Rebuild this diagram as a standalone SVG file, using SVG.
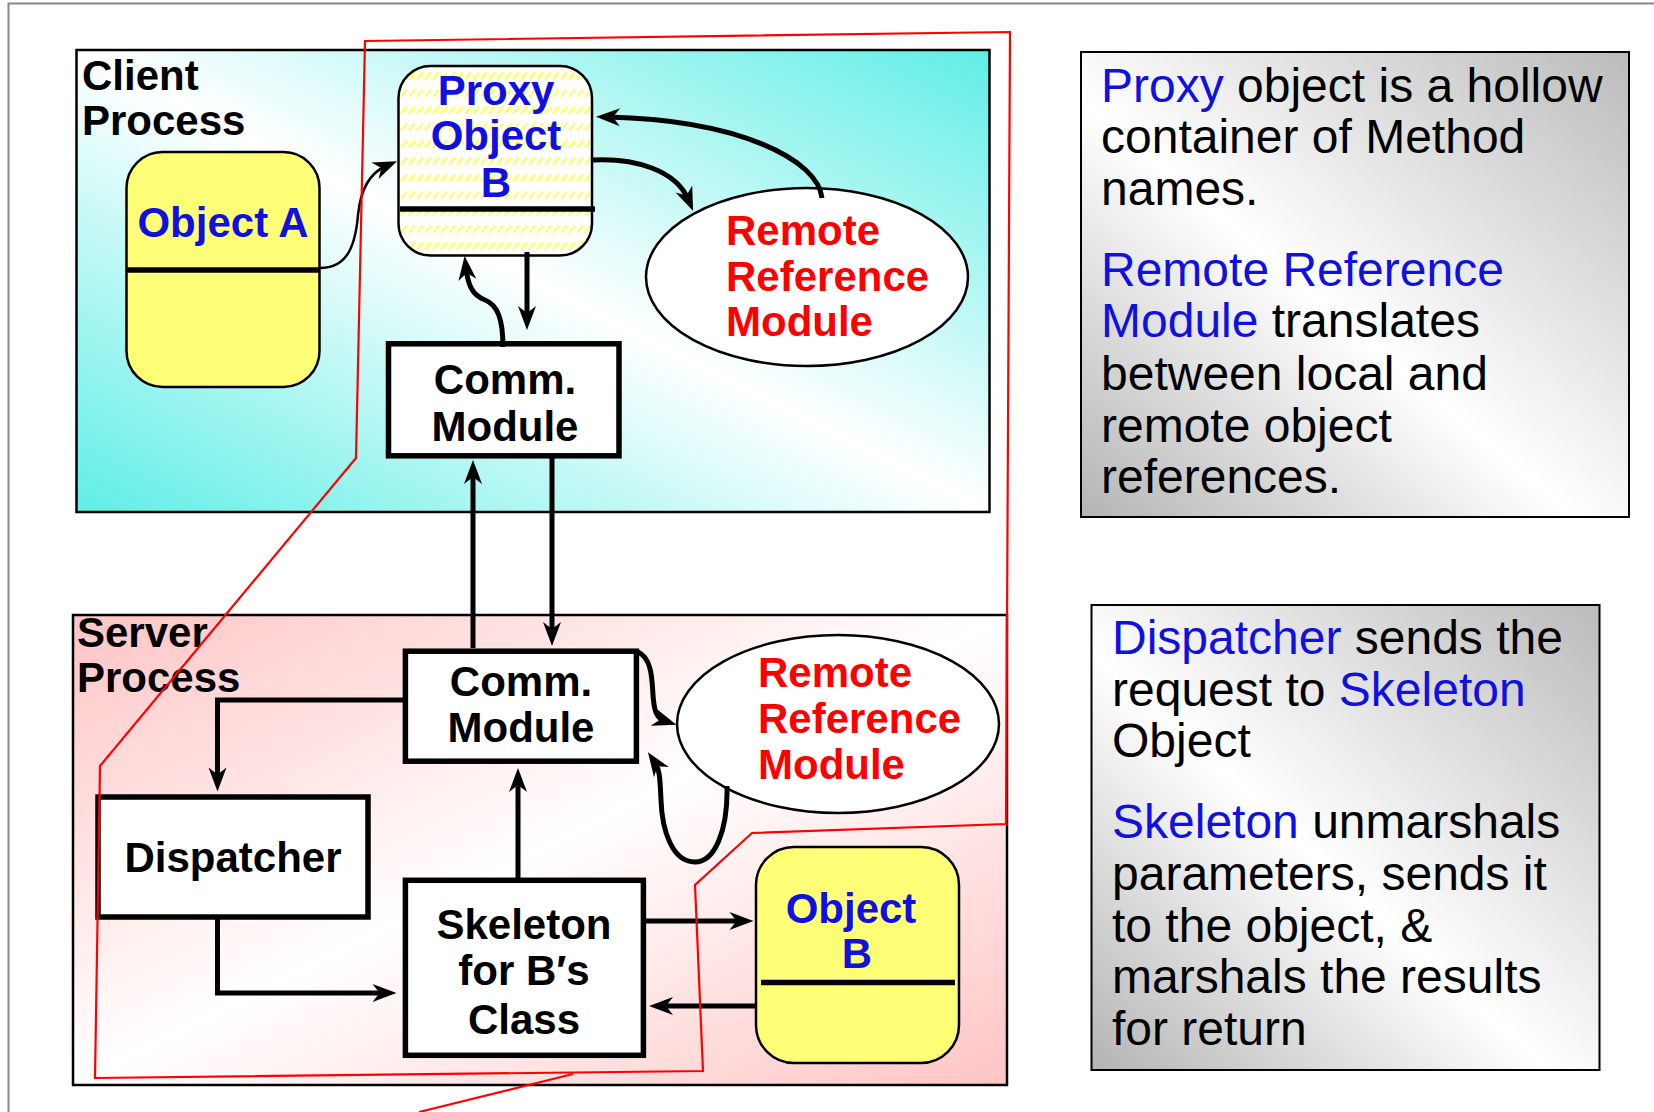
<svg xmlns="http://www.w3.org/2000/svg" width="1654" height="1112" viewBox="0 0 1654 1112">
<defs>
<linearGradient id="gClient" x1="1" y1="0" x2="0" y2="1">
<stop offset="0" stop-color="#5FEEE6"/>
<stop offset="0.5" stop-color="#FFFFFF"/>
<stop offset="1" stop-color="#5FEEE6"/>
</linearGradient>
<linearGradient id="gServer" x1="0" y1="0" x2="1" y2="1">
<stop offset="0" stop-color="#FFC4C4"/>
<stop offset="0.5" stop-color="#FFFFFF"/>
<stop offset="1" stop-color="#FFC4C4"/>
</linearGradient>
<linearGradient id="gNote" x1="1" y1="0" x2="0" y2="1">
<stop offset="0" stop-color="#BBBBBB"/>
<stop offset="0.55" stop-color="#FFFFFF"/>
<stop offset="1" stop-color="#B4B4B4"/>
</linearGradient>
<pattern id="hatch" patternUnits="userSpaceOnUse" width="8" height="17">
<rect width="8" height="17" fill="#FFFFFF"/>
<line x1="1.5" y1="11" x2="6.5" y2="5" stroke="#FFFF60" stroke-width="2.2" stroke-linecap="round"/>
</pattern>
<marker id="ah" markerUnits="userSpaceOnUse" viewBox="-26 -12 30 24" markerWidth="30" markerHeight="24" refX="-12" refY="0" orient="auto" overflow="visible">
<path d="M0,0 L-24,-9 L-17,0 L-24,9 Z" fill="#000"/>
</marker>
<style>
.lbl{font-family:"Liberation Sans",Arial,sans-serif;font-weight:bold;font-size:42px}
.blk{fill:#000}
.blu{fill:#1010E0}
.red{fill:#FF0000}
.ctr{text-anchor:middle}
.note{font-family:"Liberation Sans",Arial,sans-serif;font-size:48px;fill:#000}
.hl{fill:#1010E0}
.box{fill:#FFFFFF;stroke:#000;stroke-width:5.5}
.obj{fill:#FFFF77;stroke:#000;stroke-width:2.5}
.div{stroke:#000;stroke-width:5.5}
.ell{fill:#FFFFFF;stroke:#000;stroke-width:2.5}
.con{fill:none;stroke:#000;stroke-width:5;marker-end:url(#ah)}
.thin{fill:none;stroke:#000;stroke-width:2.5;marker-end:url(#ah)}
</style>
</defs>
<rect width="1654" height="1112" fill="#FFFFFF"/>
<path d="M8.5,1112 L8.5,3.5 L1654,3.5" fill="none" stroke="#888888" stroke-width="2"/>

<g id="client-process">
<rect x="76.5" y="50" width="913" height="462" fill="url(#gClient)" stroke="#000" stroke-width="2.5"/>
<text class="lbl blk" x="82" y="90">Client</text>
<text class="lbl blk" x="82" y="135">Process</text>
</g>
<g id="server-process">
<rect x="73" y="615" width="934" height="470" fill="url(#gServer)" stroke="#000" stroke-width="2.5"/>
<text class="lbl blk" x="77" y="647">Server</text>
<text class="lbl blk" x="77" y="692">Process</text>
</g>

<g id="object-a">
<rect class="obj" x="126.5" y="152" width="193" height="235" rx="36"/>
<line class="div" x1="126" y1="270" x2="320" y2="270"/>
<text class="lbl blu ctr" x="223" y="237">Object A</text>
</g>
<g id="proxy-object-b">
<rect x="398.5" y="66" width="193.5" height="189.5" rx="32" fill="url(#hatch)" stroke="#000" stroke-width="2.5"/>
<line class="div" x1="400" y1="209" x2="595" y2="209"/>
<text class="lbl blu ctr" x="496" y="105">Proxy</text>
<text class="lbl blu ctr" x="496" y="150">Object</text>
<text class="lbl blu ctr" x="496" y="197">B</text>
</g>
<g id="rrm-client">
<ellipse class="ell" cx="807" cy="277" rx="161" ry="89"/>
<text class="lbl red" x="726" y="245">Remote</text>
<text class="lbl red" x="726" y="291">Reference</text>
<text class="lbl red" x="726" y="336">Module</text>
</g>
<g id="comm-client">
<rect class="box" x="388.5" y="343.8" width="230.5" height="112"/>
<text class="lbl blk ctr" x="505" y="394">Comm.</text>
<text class="lbl blk ctr" x="505" y="441">Module</text>
</g>
<g id="comm-server">
<rect class="box" x="405.4" y="651.2" width="231" height="110"/>
<text class="lbl blk ctr" x="521" y="696">Comm.</text>
<text class="lbl blk ctr" x="521" y="742">Module</text>
</g>
<g id="rrm-server">
<ellipse class="ell" cx="838" cy="724" rx="161" ry="89"/>
<text class="lbl red" x="758" y="687">Remote</text>
<text class="lbl red" x="758" y="733">Reference</text>
<text class="lbl red" x="758" y="779">Module</text>
</g>
<g id="dispatcher">
<rect class="box" x="98" y="797" width="270" height="120"/>
<text class="lbl blk ctr" x="233" y="872">Dispatcher</text>
</g>
<g id="skeleton">
<rect class="box" x="405.4" y="880.3" width="238" height="175"/>
<text class="lbl blk ctr" x="524" y="939">Skeleton</text>
<text class="lbl blk ctr" x="524" y="985">for B′s</text>
<text class="lbl blk ctr" x="524" y="1034">Class</text>
</g>
<g id="object-b">
<rect class="obj" x="756" y="847" width="203" height="216" rx="38"/>
<line class="div" x1="761" y1="982.5" x2="955" y2="982.5"/>
<text class="lbl blu ctr" x="851" y="923">Object</text>
<text class="lbl blu ctr" x="857" y="968">B</text>
</g>

<g id="connectors">
<path class="thin" d="M320,268 C345,268 355,250 358,215 C361,185 372,172 386,166"/>
<path class="con" d="M822,198 C818,160 740,120 608,117"/>
<path class="con" d="M593,160 C635,158 676,170 688.5,200"/>
<path class="con" d="M503,347 C503,320 498,305 485,300 C472,295 468,285 466,268"/>
<path class="con" d="M527,252 L527,318"/>
<path class="con" d="M473,648 L473,472"/>
<path class="con" d="M552,458 L552,634"/>
<path class="con" d="M404,700 L217.5,700 L217.5,779.5"/>
<path class="con" d="M217.5,919 L217.5,993 L384.5,993"/>
<path class="con" d="M518,879 L518,780"/>
<path class="con" d="M645,921 L741.5,921"/>
<path class="con" d="M756,1006 L661,1006"/>
<path class="con" d="M638,652 C652,658 652,680 653,695 C654,710 656,718 665,721"/>
<path class="con" d="M727,786 C728,830 715,862 695,862 C672,862 662,830 661,800 C660,780 660,770 654.7,762.2"/>
</g>

<g id="note-proxy">
<rect x="1081" y="52" width="548" height="465" fill="url(#gNote)" stroke="#000" stroke-width="2"/>
<text class="note" x="1101" y="102"><tspan class="hl">Proxy</tspan> object is a hollow</text>
<text class="note" x="1101" y="153">container of Method</text>
<text class="note" x="1101" y="205">names.</text>
<text class="note" x="1101" y="286"><tspan class="hl">Remote Reference</tspan></text>
<text class="note" x="1101" y="337"><tspan class="hl">Module</tspan> translates</text>
<text class="note" x="1101" y="390">between local and</text>
<text class="note" x="1101" y="442">remote object</text>
<text class="note" x="1101" y="493">references.</text>
</g>
<g id="note-dispatcher">
<rect x="1091.5" y="605" width="508" height="465" fill="url(#gNote)" stroke="#000" stroke-width="2"/>
<text class="note" x="1112" y="654"><tspan class="hl">Dispatcher</tspan> sends the</text>
<text class="note" x="1112" y="706">request to <tspan class="hl">Skeleton</tspan></text>
<text class="note" x="1112" y="757">Object</text>
<text class="note" x="1112" y="838"><tspan class="hl">Skeleton</tspan> unmarshals</text>
<text class="note" x="1112" y="890">parameters, sends it</text>
<text class="note" x="1112" y="942">to the object, &amp;</text>
<text class="note" x="1112" y="993">marshals the results</text>
<text class="note" x="1112" y="1045">for return</text>
</g>

<g id="highlight">
<polygon points="365,41 1010,32 1006,824 752,833 695,885 703,1071 95,1078 100,766 356,458" fill="none" stroke="#FF0000" stroke-width="2.2"/>
<line x1="573" y1="1074" x2="419" y2="1112" stroke="#FF0000" stroke-width="2.2"/>
</g>
</svg>
